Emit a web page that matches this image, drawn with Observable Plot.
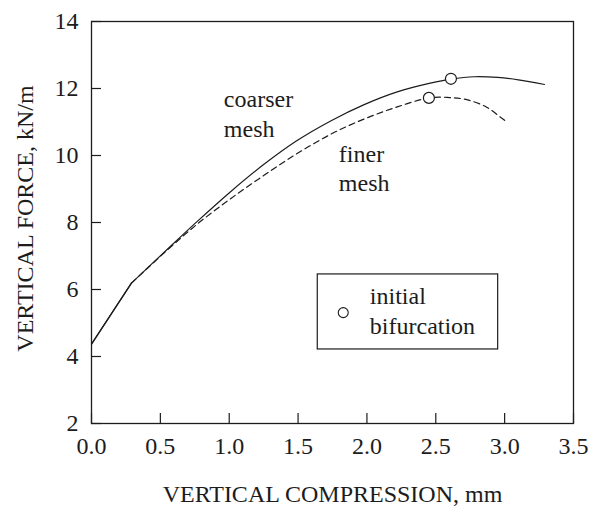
<!DOCTYPE html>
<html><head><meta charset="utf-8">
<script src="https://cdn.jsdelivr.net/npm/d3@7"></script>
<script src="https://cdn.jsdelivr.net/npm/@observablehq/plot@0.6"></script>
<style>body{margin:0;background:#fff} svg{display:block}</style>
</head><body><div id="chart"></div>
<script>
// Coarser mesh (solid)
const coarseX = [0, 0.29, 0.53, 0.77, 1.01, 1.25, 1.49, 1.74, 1.98, 2.22, 2.46, 2.61, 2.78, 2.95, 3.10, 3.29];
const coarseY = [4.37, 6.19, 7.12, 8.04, 8.92, 9.73, 10.44, 11.04, 11.52, 11.90, 12.16, 12.28, 12.35, 12.33, 12.26, 12.12];
// Finer mesh (dashed)
const fineX = [0, 0.29, 0.54, 0.77, 1.01, 1.25, 1.49, 1.74, 1.98, 2.22, 2.45, 2.60, 2.73, 2.87, 2.97, 3.02];
const fineY = [4.37, 6.19, 7.14, 7.96, 8.71, 9.40, 10.05, 10.64, 11.09, 11.45, 11.72, 11.73, 11.66, 11.44, 11.14, 10.99];
// Initial bifurcation points
const bifX = [2.61, 2.45];
const bifY = [12.29, 11.72];
// Ticks
const xTicks = [0, 0.5, 1.0, 1.5, 2.0, 2.5, 3.0, 3.5];
const yTicks = [2, 4, 6, 8, 10, 12, 14];
// Texts
const xTitle = "VERTICAL COMPRESSION, mm";
const yTitle = "VERTICAL FORCE, kN/m";
const noteLines = ["coarser", "mesh", "finer", "mesh", "initial", "bifurcation"];

// Annotation placement (data coordinates, text baselines)
const noteX = [0.961, 0.961, 1.796, 1.796, 2.021, 2.021];
const noteY = [11.437, 10.543, 9.797, 8.933, 5.556, 4.683];
const legendBox = {x1: 1.643, x2: 2.953, y1: 4.21, y2: 6.45};
const legendMarker = {x: 1.828, y: 5.31};

const coarse = coarseX.map((x, i) => ({x, y: coarseY[i]}));
const fine = fineX.map((x, i) => ({x, y: fineY[i]}));
const bif = bifX.map((x, i) => ({x, y: bifY[i]}));
const notes = noteLines.map((t, i) => ({x: noteX[i], y: noteY[i], text: t}));

const ink = "#1c1c1c";
const font = "Liberation Serif";

const chart = Plot.plot({
  width: 594, height: 506,
  marginLeft: 91, marginRight: 21, marginTop: 21, marginBottom: 83,
  x: {domain: [0, 3.5], label: null},
  y: {domain: [2, 14], label: null},
  style: {fontFamily: font, fontSize: "24px", color: ink, background: "#fff"},
  marks: [
    Plot.axisX(xTicks, {tickSize: 10, dy: -10, text: null, label: null, strokeWidth: 1.2}),
    Plot.axisX(xTicks, {tickSize: 0, tickPadding: 13, tickFormat: d => d.toFixed(1), fontSize: 24, fontFamily: font, label: null}),
    Plot.axisY(yTicks, {tickSize: 10, dx: 10, text: null, label: null, strokeWidth: 1.2}),
    Plot.axisY(yTicks, {tickSize: 0, tickPadding: 13, fontSize: 24, fontFamily: font, label: null}),
    Plot.frame({stroke: ink, strokeWidth: 1.3}),
    Plot.line(fine.slice(0, 2), {x: "x", y: "y", stroke: ink, strokeWidth: 1.2}),
    Plot.line(fine.slice(1), {x: "x", y: "y", curve: "catmull-rom", stroke: ink, strokeWidth: 1.2, strokeDasharray: "6,4"}),
    Plot.line(coarse.slice(0, 2), {x: "x", y: "y", stroke: ink, strokeWidth: 1.2}),
    Plot.line(coarse.slice(1), {x: "x", y: "y", curve: "catmull-rom", stroke: ink, strokeWidth: 1.2}),
    Plot.dot(bif, {x: "x", y: "y", r: 5.5, fill: "white", stroke: ink, strokeWidth: 1.2}),
    Plot.rect([legendBox], {x1: "x1", x2: "x2", y1: "y1", y2: "y2", fill: "none", stroke: ink, strokeWidth: 1.2}),
    Plot.dot([legendMarker], {x: "x", y: "y", r: 5, fill: "white", stroke: ink, strokeWidth: 1.1}),
    Plot.text(notes, {x: "x", y: "y", text: "text", textAnchor: "start", lineAnchor: "bottom", fontSize: 24, fontFamily: font, fill: ink}),
    Plot.text([xTitle], {frameAnchor: "bottom", textAnchor: "middle", dy: 78, lineAnchor: "bottom", fontSize: 24, fontFamily: font, fill: ink}),
    Plot.text([yTitle], {frameAnchor: "left", textAnchor: "middle", rotate: -90, dx: -59, dy: -4, lineAnchor: "bottom", fontSize: 24, fontFamily: font, fill: ink})
  ]
});
document.getElementById("chart").append(chart);
</script>
</body></html>
